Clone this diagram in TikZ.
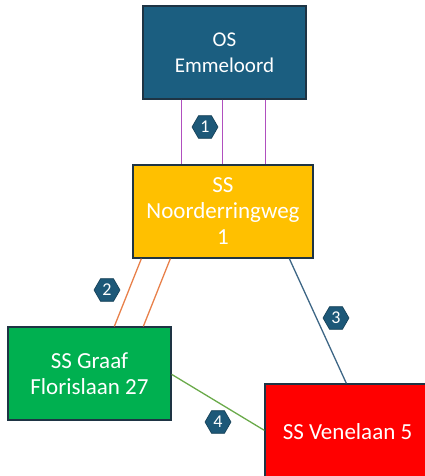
\documentclass[tikz,border=0pt]{standalone}
\usepackage{fontspec}
\setmainfont{Carlito}
\usetikzlibrary{shapes.geometric,calc}
\definecolor{osblue}{HTML}{1B5E80}
\definecolor{ssyellow}{HTML}{FFC000}
\definecolor{ssgreen}{HTML}{00B050}
\definecolor{ssred}{HTML}{FF0000}
\definecolor{boxline}{HTML}{1E3444}
\definecolor{lpurple}{HTML}{B04FBF}
\definecolor{lorange}{HTML}{E8804A}
\definecolor{lblue}{HTML}{3D6685}
\definecolor{lgreen}{HTML}{6AAA4A}
\definecolor{hexfill}{HTML}{1D5878}
\tikzset{
  station/.style={draw=boxline, line width=1.3pt, text=white, align=center,
    font=\fontsize{23}{26}\selectfont, inner sep=0pt},
  hexlabel/.style={regular polygon, regular polygon sides=6, minimum size=26pt,
    inner sep=0pt, fill=hexfill, draw=hexfill!70!black, line width=0.6pt, text=white,
    font=\fontsize{18}{18}\selectfont},
  link/.style={line width=1.3pt}
}
\begin{document}
\begin{tikzpicture}[x=1pt,y=-1pt]
\useasboundingbox (0,0) rectangle (425,476);
\clip (0,0) rectangle (425,476);
\node[station, fill=osblue, minimum width=163pt, minimum height=93pt, font=\fontsize{21}{26}\selectfont] (os) at (224.5,52.5) {OS\\Emmeloord};
\node[station, fill=ssyellow, minimum width=180pt, minimum height=93pt] (ss) at (223,211.5) {SS\\Noorderringweg\\1};
\node[station, fill=ssgreen, minimum width=163pt, minimum height=93pt] (gf) at (89.5,373.5) {SS Graaf\\Florislaan 27};
\node[station, fill=ssred, minimum width=165pt, minimum height=96pt] (vl) at (347.5,432) {SS Venelaan 5};
% links 1
\draw[link, lpurple] ($(os.south west)+(39,0)$) -- ($(ss.north west)+(49,0)$);
\draw[link, lpurple] ($(os.south west)+(80,0)$) -- ($(ss.north west)+(90,0)$);
\draw[link, lpurple] ($(os.south west)+(123,0)$) -- ($(ss.north west)+(133,0)$);
% links 2
\draw[link, lorange] ($(ss.south west)+(9,0)$) -- ($(gf.north west)+(107,0)$);
\draw[link, lorange] ($(ss.south west)+(38,0)$) -- ($(gf.north west)+(136,0)$);
% link 3
\draw[link, lblue] ($(ss.south west)+(157,0)$) -- ($(vl.north west)+(82,0)$);
% link 4
\draw[link, lgreen] ($(gf.north east)+(0,48)$) -- ($(vl.north west)+(0,47)$);
% labels
\node[hexlabel] (h1) at (205,127) {1};
\node[hexlabel] (h2) at (107,290) {2};
\node[hexlabel] (h3) at (336,318) {3};
\node[hexlabel] (h4) at (218,422) {4};
\end{tikzpicture}
\end{document}
